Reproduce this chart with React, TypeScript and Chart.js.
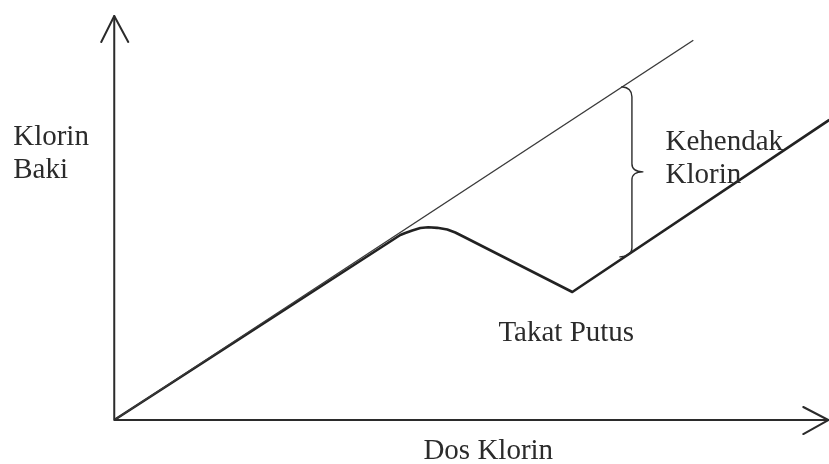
import React, { useEffect, useRef } from "react";
import { Chart, registerables } from "chart.js";

Chart.register(...registerables);

// Theoretical line: chlorine dose = chlorine residual (no demand)
const doseLineX = [0, 8.11];
const doseLineY = [0, 8.15];

// Actual residual chlorine curve (with breakpoint)
const residualX = [0, 4.006, 4.076, 4.174, 4.286, 4.398, 4.524, 4.664, 4.776, 4.874, 6.415, 10.014];
const residualY = [0, 3.97, 4.013, 4.067, 4.12, 4.135, 4.124, 4.088, 4.024, 3.948, 2.747, 6.44];

// Axis extents (data units)
const xAxisEnd = 10.0;
const yAxisEnd = 8.67;

// Chlorine demand brace (data units)
const braceX = 7.11;
const braceTop = 7.15;
const braceBottom = 3.5;

// Text labels
const yTitleLines = ["Klorin", "Baki"];
const xTitleLines = ["Dos Klorin"];
const demandLines = ["Kehendak", "Klorin"];
const breakpointLines = ["Takat Putus"];

const labels = [
  { lines: yTitleLines, x: -1.415, y: 5.9 },
  { lines: demandLines, x: 7.72, y: 5.79 },
  { lines: breakpointLines, x: 5.38, y: 1.7 },
  { lines: xTitleLines, x: 4.33, y: -0.84 },
];

const FONT = '29px "Liberation Serif", "Times New Roman", serif';
const INK = "#2b2b2b";

const toPoints = (xs: number[], ys: number[]) => xs.map((x, i) => ({ x, y: ys[i] }));

const drawingPlugin = {
  id: "diagramExtras",
  afterDatasetsDraw(chart: any) {
    const { ctx, scales } = chart;
    const sx = scales.x;
    const sy = scales.y;
    const px = (v: number) => sx.getPixelForValue(v);
    const py = (v: number) => sy.getPixelForValue(v);
    ctx.save();
    ctx.strokeStyle = INK;
    ctx.lineCap = "round";
    ctx.lineJoin = "round";

    // Axes
    const ox = px(0);
    const oy = py(0);
    ctx.lineWidth = 2;
    ctx.beginPath();
    ctx.moveTo(ox, oy);
    ctx.lineTo(ox, py(yAxisEnd));
    ctx.moveTo(ox, oy);
    ctx.lineTo(px(xAxisEnd), oy);
    ctx.stroke();

    // Arrow heads
    const ty = py(yAxisEnd);
    ctx.beginPath();
    ctx.moveTo(ox - 13, ty + 26);
    ctx.lineTo(ox, ty);
    ctx.lineTo(ox + 14, ty + 26);
    const tx = px(xAxisEnd);
    ctx.moveTo(tx - 25, oy - 13);
    ctx.lineTo(tx, oy);
    ctx.lineTo(tx - 25, oy + 14);
    ctx.stroke();

    // Brace
    const bx = px(braceX);
    const yt = py(braceTop);
    const yb = py(braceBottom);
    const ym = (yt + yb) / 2;
    ctx.lineWidth = 1.4;
    ctx.beginPath();
    ctx.moveTo(bx, yt);
    ctx.quadraticCurveTo(bx + 10, yt + 1, bx + 10, yt + 10);
    ctx.lineTo(bx + 10, ym - 8);
    ctx.quadraticCurveTo(bx + 10, ym, bx + 21, ym);
    ctx.quadraticCurveTo(bx + 10, ym, bx + 10, ym + 8);
    ctx.lineTo(bx + 10, yb - 9);
    ctx.quadraticCurveTo(bx + 10, yb - 1, bx - 2, yb);
    ctx.stroke();

    // Labels
    ctx.fillStyle = INK;
    ctx.font = FONT;
    ctx.textAlign = "left";
    ctx.textBaseline = "alphabetic";
    labels.forEach((l) => {
      l.lines.forEach((t, i) => {
        ctx.fillText(t, px(l.x), py(l.y) + i * 32.5);
      });
    });
    ctx.restore();
  },
};

export default function App() {
  const ref = useRef<HTMLCanvasElement | null>(null);
  useEffect(() => {
    if (!ref.current) return;
    const chart = new Chart(ref.current, {
      type: "line",
      data: {
        datasets: [
          {
            data: toPoints(doseLineX, doseLineY),
            borderColor: "#3a3a3a",
            borderWidth: 1.4,
            pointRadius: 0,
            tension: 0,
          },
          {
            data: toPoints(residualX, residualY),
            borderColor: "#222222",
            borderWidth: 2.6,
            borderJoinStyle: "round",
            pointRadius: 0,
            tension: 0,
          },
        ],
      },
      options: {
        animation: false,
        responsive: false,
        devicePixelRatio: 1,
        layout: { padding: 0 },
        plugins: { legend: { display: false }, tooltip: { enabled: false } },
        scales: {
          x: { type: "linear", min: -1.6, max: 10.01, display: false },
          y: { type: "linear", min: -0.944, max: 9.013, display: false },
        },
      },
      plugins: [drawingPlugin],
    });
    return () => chart.destroy();
  }, []);
  return (
    <div style={{ position: "fixed", left: 0, top: 0, width: 829, height: 464, background: "#fff" }}>
      <canvas ref={ref} width={829} height={464} />
    </div>
  );
}
